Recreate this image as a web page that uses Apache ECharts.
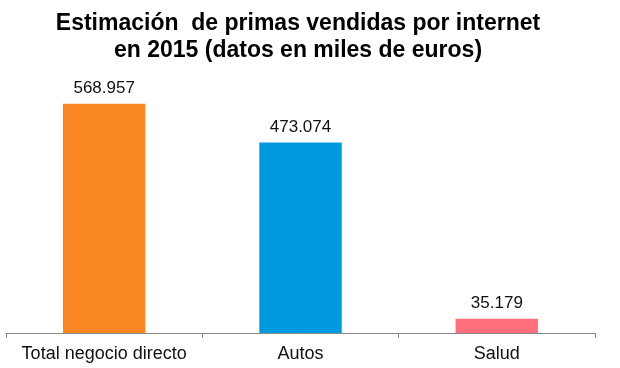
<!DOCTYPE html>
<html><head><meta charset="utf-8">
<script src="https://cdn.jsdelivr.net/npm/echarts@6/dist/echarts.min.js"></script>
<style>html,body{margin:0;padding:0;background:#fff}#c{width:620px;height:368px}</style>
</head><body><div id="c"></div>
<script>
var categories = ["Total negocio directo", "Autos", "Salud"];
var values = [568957, 473074, 35179];
var colors = ["#FA8623", "#0099DD", "#FF6F7C"];
var titleLines = ["Estimación  de primas vendidas por internet", "en 2015 (datos en miles de euros)"];

function fmt(v){ return String(v).replace(/\B(?=(\d{3})+(?!\d))/g, "."); }

var chart = echarts.init(document.getElementById("c"));
chart.setOption({
  animation: false,
  title: {
    text: titleLines.join("\n"),
    left: 293, textAlign: "center", top: 5,
    textStyle: { fontFamily: "Liberation Sans, Arial", fontWeight: "bold", fontSize: 23, lineHeight: 27, color: "#000" }
  },
  grid: { left: 6, right: 25, bottom: 35, top: 51, containLabel: false },
  xAxis: {
    type: "category", data: categories,
    axisLine: { lineStyle: { color: "#888", width: 1 } },
    axisTick: { show: true, length: 5, lineStyle: { color: "#888" } },
    axisLabel: { interval: 0, fontFamily: "Liberation Sans, Arial", fontSize: 18, color: "#111", margin: 12 }
  },
  yAxis: { type: "value", min: 0, max: 700000, show: false, splitLine: { show: false } },
  series: [{
    type: "bar", barWidth: "42%",
    data: values.map(function(v, i){ return { value: v, itemStyle: { color: colors[i] } }; }),
    label: { show: true, position: "top", distance: 7, formatter: function(p){ return fmt(p.value); },
      fontFamily: "Liberation Sans, Arial", fontSize: 17, color: "#111" }
  }]
});
</script></body></html>
